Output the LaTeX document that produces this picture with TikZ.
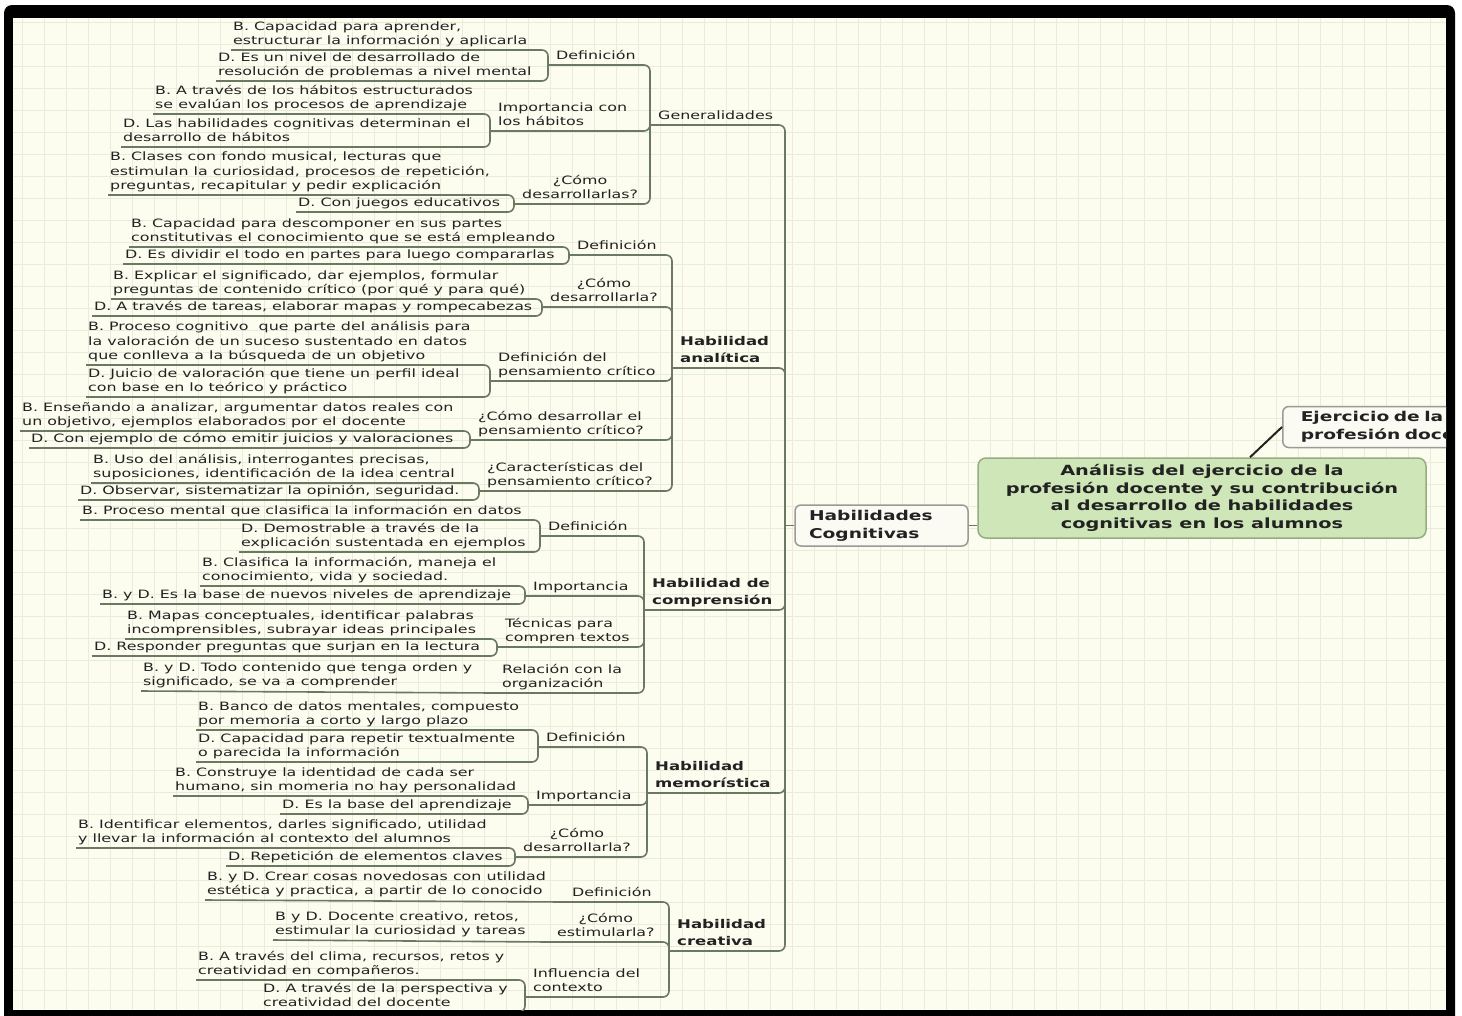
\documentclass[tikz,border=0pt]{standalone}
\usepackage{fontspec}
\setmainfont{DejaVu Sans}[FakeStretch = 1.38]
\newcommand\leaffont{\fontsize{11.5}{14.5}\selectfont}
\newcommand\branchfont{\fontsize{12}{17}\selectfont\bfseries}
\newcommand\boxfont{\fontsize{13.5}{18}\selectfont\bfseries}
\newcommand\titlefont{\fontsize{14}{17.7}\selectfont\bfseries}
\newcommand\lowstrut{\rule[-4pt]{0pt}{4pt}}
\definecolor{paper}{HTML}{FCFDEF}
\definecolor{gridline}{HTML}{E9ECDA}
\definecolor{branchline}{HTML}{6A7864}
\definecolor{ink}{HTML}{222222}
\definecolor{titlefill}{HTML}{CFE6B8}
\definecolor{titledraw}{HTML}{93AE83}
\definecolor{boxfill}{HTML}{FBFBF4}
\definecolor{boxdraw}{HTML}{9A9A96}

\begin{document}
\begin{tikzpicture}[x = 1pt, y = -1pt,
    leaf/.style = {anchor = south west, inner xsep = 2pt, inner ysep = 1pt,
      align = left, font = \leaffont, text = ink,
      execute at end node = \lowstrut},
    topic/.style = {leaf, inner xsep = 8pt},
    ctopic/.style = {topic, align = center},
    branch/.style = {topic, font = \branchfont},
    link/.style = {draw = branchline, line width = 1.6pt, rounded corners = 6pt},
    hcbox/.style = {draw = boxdraw, fill = boxfill, line width = 1.5pt,
      rounded corners = 6pt, align = left, font = \boxfont, text = ink,
      inner xsep = 14pt, minimum height = 41pt},
    title/.style = {draw = titledraw, fill = titlefill, line width = 1.5pt,
      rounded corners = 8pt, align = center, font = \titlefont, text = ink,
      minimum width = 448pt, minimum height = 80pt}]
  \useasboundingbox (0,0) rectangle (1462,1015);
  \fill [white] (0,0) rectangle (1462,1015);
  \fill [black, rounded corners = 8pt] (4,5) rectangle (1455,1040);
  \fill [paper] (13,18) rectangle (1446,1010);
  \draw [gridline, step = 22pt] (13,1010) grid (1446,18);
  \begin{scope}
    \clip (13,18) rectangle (1446,1010);

    \node [title] (title) at (1202,498) {An\'alisis del ejercicio de la\\profesi\'on docente y su contribuci\'on\\al desarrollo de habilidades\\cognitivas en los alumnos};
    \node [hcbox, text width = 145pt] (hc) at (881.5,525.5) {Habilidades\\Cognitivas};
    \node [hcbox, anchor = west, text width = 200pt, inner xsep = 18pt] (ejer) at (1282,427) {Ejercicio de la\\profesi\'on docente};
    \draw [line width = 2pt, ink] ([xshift = 48pt]title.north) -- (ejer.west);
    \draw [link] (hc.east) -- (hc.east -| title.west);
    \coordinate (hub) at (785,525.5);
    \draw [link] (hc.west) -- (hub);

    \node [topic] (gen) at (650,125) {Generalidades};
    \node [topic] (genDef) at (548,65) {Definici\'on};
    \node [leaf] (genDefB) at (231,50) {B. Capacidad para aprender,\\estructurar la informaci\'on y aplicarla};
    \node [leaf] (genDefD) at (216,81) {D. Es un nivel de desarrollado de\\resoluci\'on de problemas a nivel mental};
    \node [topic] (genImp) at (490,131) {Importancia con\\los h\'abitos};
    \node [leaf] (genImpB) at (153,114) {B. A trav\'es de los h\'abitos estructurados\\se eval\'uan los procesos de aprendizaje};
    \node [leaf] (genImpD) at (121,147) {D. Las habilidades cognitivas determinan el\\desarrollo de h\'abitos};
    \node [ctopic] (genCom) at (514,204) {¿C\'omo\\desarrollarlas?};
    \node [leaf] (genComB) at (108,195) {B. Clases con fondo musical, lecturas que\\estimulan la curiosidad, procesos de repetici\'on,\\preguntas, recapitular y pedir explicaci\'on};
    \node [leaf] (genComD) at (296,212) {D. Con juegos educativos};

    \node [branch] (ana) at (672,368) {Habilidad\\anal\'itica};
    \node [topic] (anaDef) at (569,255) {Definici\'on};
    \node [leaf] (anaDefB) at (129,247) {B. Capacidad para descomponer en sus partes\\constitutivas el conocimiento que se est\'a empleando};
    \node [leaf] (anaDefD) at (123,264) {D. Es dividir el todo en partes para luego compararlas};
    \node [ctopic] (anaCom) at (542,307) {¿C\'omo\\desarrollarla?};
    \node [leaf] (anaComB) at (111,299) {B. Explicar el significado, dar ejemplos, formular\\preguntas de contenido cr\'itico (por qu\'e y para qu\'e)};
    \node [leaf] (anaComD) at (92,316) {D. A trav\'es de tareas, elaborar mapas y rompecabezas};
    \node [topic] (anaPen) at (490,381) {Definici\'on del\\pensamiento cr\'itico};
    \node [leaf] (anaPenB) at (86,365) {B. Proceso cognitivo\ \ que parte del an\'alisis para\\la valoraci\'on de un suceso sustentado en datos\\que conlleva a la b\'usqueda de un objetivo};
    \node [leaf] (anaPenD) at (86,397) {D. Juicio de valoraci\'on que tiene un perfil ideal\\con base en lo te\'orico y pr\'actico};
    \node [topic] (anaDes) at (470,440) {¿C\'omo desarrollar el\\pensamiento cr\'itico?};
    \node [leaf] (anaDesB) at (20,431) {B. Ense\~nando a analizar, argumentar datos reales con\\un objetivo, ejemplos elaborados por el docente};
    \node [leaf] (anaDesD) at (29,448) {D. Con ejemplo de c\'omo emitir juicios y valoraciones};
    \node [topic] (anaCar) at (479,491) {¿Caracter\'isticas del\\pensamiento cr\'itico?};
    \node [leaf] (anaCarB) at (91,483) {B. Uso del an\'alisis, interrogantes precisas,\\suposiciones, identificaci\'on de la idea central};
    \node [leaf] (anaCarD) at (78,500) {D. Observar, sistematizar la opini\'on, seguridad.};

    \node [branch] (com) at (644,610) {Habilidad de\\comprensi\'on};
    \node [topic] (comDef) at (540,536) {Definici\'on};
    \node [leaf] (comDefB) at (80,520) {B. Proceso mental que clasifica la informaci\'on en datos};
    \node [leaf] (comDefD) at (239,552) {D. Demostrable a trav\'es de la\\explicaci\'on sustentada en ejemplos};
    \node [topic] (comImp) at (525,596) {Importancia};
    \node [leaf] (comImpB) at (200,586) {B. Clasifica la informaci\'on, maneja el\\conocimiento, vida y sociedad.};
    \node [leaf] (comImpD) at (100,604) {B. y D. Es la base de nuevos niveles de aprendizaje};
    \node [topic] (comTec) at (497,647) {T\'ecnicas para\\compren textos};
    \node [leaf] (comTecB) at (125,639) {B. Mapas conceptuales, identificar palabras\\incomprensibles, subrayar ideas principales};
    \node [leaf] (comTecD) at (92,656) {D. Responder preguntas que surjan en la lectura};
    \node [topic] (comRel) at (494,693) {Relaci\'on con la\\organizaci\'on};
    \node [leaf] (comRelB) at (141,691) {B. y D. Todo contenido que tenga orden y\\significado, se va a comprender};

    \node [branch] (mem) at (647,793) {Habilidad\\memor\'istica};
    \node [topic] (memDef) at (538,747) {Definici\'on};
    \node [leaf] (memDefB) at (196,730) {B. Banco de datos mentales, compuesto\\por memoria a corto y largo plazo};
    \node [leaf] (memDefD) at (196,762) {D. Capacidad para repetir textualmente\\o parecida la informaci\'on};
    \node [topic] (memImp) at (528,805) {Importancia};
    \node [leaf] (memImpB) at (173,796) {B. Construye la identidad de cada ser\\humano, sin momeria no hay personalidad};
    \node [leaf] (memImpD) at (280,814) {D. Es la base del aprendizaje};
    \node [ctopic] (memCom) at (515,857) {¿C\'omo\\desarrollarla?};
    \node [leaf] (memComB) at (76,848) {B. Identificar elementos, darles significado, utilidad\\y llevar la informaci\'on al contexto del alumnos};
    \node [leaf] (memComD) at (226,866) {D. Repetici\'on de elementos claves};

    \node [branch] (cre) at (669,951) {Habilidad\\creativa};
    \node [topic] (creDef) at (564,902) {Definici\'on};
    \node [leaf] (creDefB) at (205,900) {B. y D. Crear cosas novedosas con utilidad\\est\'etica y practica, a partir de lo conocido};
    \node [ctopic] (creCom) at (549,942) {¿C\'omo\\estimularla?};
    \node [leaf] (creComB) at (273,940) {B y D. Docente creativo, retos,\\estimular la curiosidad y tareas};
    \node [topic] (creInf) at (525,997) {Influencia del\\contexto};
    \node [leaf] (creInfB) at (196,980) {B. A trav\'es del clima, recursos, retos y\\creatividad en compa\~neros.};
    \node [leaf] (creInfD) at (261,1012) {D. A trav\'es de la perspectiva y\\creatividad del docente};

    \draw [link] (hub) |- (gen.south west);
    \draw [link] (hub) |- (ana.south west);
    \draw [link] (hub) |- (com.south west);
    \draw [link] (hub) |- (mem.south west);
    \draw [link] (hub) |- (cre.south west);

    \draw [link] (gen.south west) |- (genDef.south west);
    \draw [link] (gen.south west) |- (genImp.south west);
    \draw [link] (gen.south west) |- (genCom.south west);
    \draw [link] (genDef.south west) |- (genDefB.south west);
    \draw [link] (genDef.south west) |- (genDefD.south west);
    \draw [link] (genImp.south west) |- (genImpB.south west);
    \draw [link] (genImp.south west) |- (genImpD.south west);
    \draw [link] (genCom.south west) |- (genComB.south west);
    \draw [link] (genCom.south west) |- (genComD.south west);

    \draw [link] (ana.south west) |- (anaDef.south west);
    \draw [link] (ana.south west) |- (anaCom.south west);
    \draw [link] (ana.south west) |- (anaPen.south west);
    \draw [link] (ana.south west) |- (anaDes.south west);
    \draw [link] (ana.south west) |- (anaCar.south west);
    \draw [link] (anaDef.south west) |- (anaDefB.south west);
    \draw [link] (anaDef.south west) |- (anaDefD.south west);
    \draw [link] (anaCom.south west) |- (anaComB.south west);
    \draw [link] (anaCom.south west) |- (anaComD.south west);
    \draw [link] (anaPen.south west) |- (anaPenB.south west);
    \draw [link] (anaPen.south west) |- (anaPenD.south west);
    \draw [link] (anaDes.south west) |- (anaDesB.south west);
    \draw [link] (anaDes.south west) |- (anaDesD.south west);
    \draw [link] (anaCar.south west) |- (anaCarB.south west);
    \draw [link] (anaCar.south west) |- (anaCarD.south west);

    \draw [link] (com.south west) |- (comDef.south west);
    \draw [link] (com.south west) |- (comImp.south west);
    \draw [link] (com.south west) |- (comTec.south west);
    \draw [link] (com.south west) |- (comRel.south west);
    \draw [link] (comDef.south west) |- (comDefB.south west);
    \draw [link] (comDef.south west) |- (comDefD.south west);
    \draw [link] (comImp.south west) |- (comImpB.south west);
    \draw [link] (comImp.south west) |- (comImpD.south west);
    \draw [link] (comTec.south west) |- (comTecB.south west);
    \draw [link] (comTec.south west) |- (comTecD.south west);
    \draw [link] (comRel.south west) -- (comRelB.south west);

    \draw [link] (mem.south west) |- (memDef.south west);
    \draw [link] (mem.south west) |- (memImp.south west);
    \draw [link] (mem.south west) |- (memCom.south west);
    \draw [link] (memDef.south west) |- (memDefB.south west);
    \draw [link] (memDef.south west) |- (memDefD.south west);
    \draw [link] (memImp.south west) |- (memImpB.south west);
    \draw [link] (memImp.south west) |- (memImpD.south west);
    \draw [link] (memCom.south west) |- (memComB.south west);
    \draw [link] (memCom.south west) |- (memComD.south west);

    \draw [link] (cre.south west) |- (creDef.south west);
    \draw [link] (cre.south west) |- (creCom.south west);
    \draw [link] (cre.south west) |- (creInf.south west);
    \draw [link] (creDef.south west) -- (creDefB.south west);
    \draw [link] (creCom.south west) -- (creComB.south west);
    \draw [link] (creInf.south west) |- (creInfB.south west);
    \draw [link] (creInf.south west) |- (creInfD.south west);
  \end{scope}
\end{tikzpicture}
\end{document}
